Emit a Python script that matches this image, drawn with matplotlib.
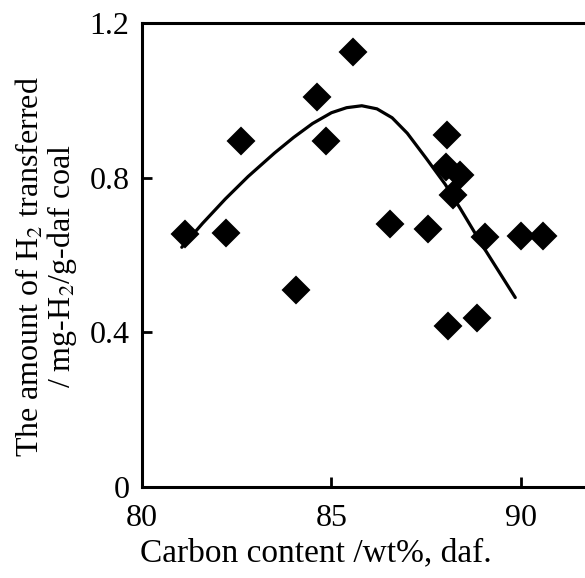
import matplotlib
matplotlib.use("Agg")
import matplotlib.pyplot as plt

# measured points (carbon content, H2 transferred)
carbon = [81.13, 82.23, 82.60, 84.06, 84.63, 84.85, 85.58, 86.54, 87.55,
          88.04, 88.02, 88.39, 88.21, 89.05, 90.00, 90.59, 88.08, 88.83]
h2 = [0.655, 0.656, 0.895, 0.509, 1.009, 0.896, 1.126, 0.681, 0.668,
      0.910, 0.828, 0.806, 0.755, 0.646, 0.648, 0.650, 0.416, 0.438]

# trend curve
curve_x = [81.05, 81.6, 82.2, 82.8, 83.5, 84.0, 84.5, 85.0, 85.4, 85.8,
           86.2, 86.6, 87.0, 87.5, 88.0, 88.4, 89.0, 89.85]
curve_y = [0.62, 0.682, 0.745, 0.803, 0.864, 0.904, 0.940, 0.968, 0.981, 0.986,
           0.978, 0.955, 0.915, 0.85, 0.783, 0.72, 0.622, 0.49]

xticks = [80, 85, 90]
yticks = [0, 0.4, 0.8, 1.2]
ytick_labels = ['0', '0.4', '0.8', '1.2']

plt.rcParams['font.family'] = ['Liberation Serif', 'DejaVu Serif']
plt.rcParams['mathtext.fontset'] = 'stix'

fig = plt.figure(figsize=(5.85, 5.78), dpi=100)
ax = fig.add_axes([0.2427, 0.1574, 0.7573, 0.8028])

ax.plot(curve_x, curve_y, color='black', lw=2.3, solid_capstyle='round',
        solid_joinstyle='round', zorder=2)
ax.plot(carbon, h2, linestyle='none', marker='D', ms=13.5, color='black',
        mec='black', mew=1.5, zorder=3)

ax.set_xlim(80, 91.69)
ax.set_ylim(0, 1.2)
ax.set_xticks(xticks)
ax.set_xticklabels([str(t) for t in xticks])
ax.set_yticks(yticks)
ax.set_yticklabels(ytick_labels)

for side in ['left', 'bottom', 'top']:
    ax.spines[side].set_linewidth(2.2)
ax.spines['right'].set_visible(False)

ax.tick_params(direction='in', length=7, width=2, labelsize=23)
ax.tick_params(axis='x', pad=12)
ax.tick_params(axis='y', pad=9)

ax.set_xlabel('Carbon content /wt%, daf.', fontsize=24, va='top')
ax.xaxis.set_label_coords(0.393, -0.110)

ax.text(-0.253, 0.476, 'The amount of H$_2$ transferred', transform=ax.transAxes,
        rotation=90, ha='center', va='center', fontsize=23)
ax.text(-0.180, 0.476, '/ mg-H$_2$/g-daf coal', transform=ax.transAxes,
        rotation=90, ha='center', va='center', fontsize=23)

fig.savefig('out.png', dpi=100)
